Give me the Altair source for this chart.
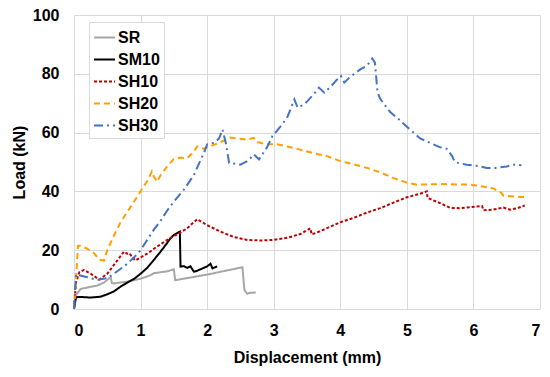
import altair as alt
import pandas as pd

series_names = ["SR", "SM10", "SH10", "SH20", "SH30"]
colors = ["#A6A6A6", "#000000", "#C00000", "#FFA000", "#4472C4"]
dashes = [[1, 0], [1, 0], [3, 2], [6, 4], [9, 4, 2, 4]]

x_ticks = [0, 1, 2, 3, 4, 5, 6, 7]
y_ticks = [0, 20, 40, 60, 80, 100]

sr_x = [0, 0.02, 0.1, 0.2, 0.35, 0.45, 0.55, 0.57, 0.6, 0.8, 1.0, 1.15, 1.2, 1.3, 1.4, 1.5, 1.52, 2.0, 2.53, 2.56, 2.6, 2.65, 2.73]
sr_y = [0, 4.5, 6.8, 7.3, 8.0, 9.0, 10.8, 8.8, 8.7, 9.3, 10.3, 11.5, 12.2, 12.5, 12.8, 13.5, 9.8, 11.7, 14.2, 6.5, 5.2, 5.5, 5.6]

sm10_x = [0, 0.03, 0.1, 0.25, 0.4, 0.5, 0.6, 0.7, 0.8, 0.9, 1.0, 1.1, 1.2, 1.3, 1.4, 1.45, 1.5, 1.59, 1.6, 1.65, 1.7, 1.75, 1.8, 1.85, 1.9, 2.0, 2.05, 2.08, 2.12, 2.15]
sm10_y = [0, 4.0, 4.1, 3.9, 4.2, 5.0, 6.0, 7.6, 9.0, 10.2, 12.0, 14.0, 16.7, 19.5, 22.5, 24.1, 25.2, 26.3, 14.4, 14.6, 14.0, 14.5, 12.7, 13.0, 13.5, 14.5, 15.4, 13.8, 14.2, 14.5]

sh10_x = [0, 0.03, 0.08, 0.15, 0.25, 0.38, 0.5, 0.6, 0.7, 0.75, 0.8, 0.83, 0.88, 0.92, 1.0, 1.1, 1.2, 1.3, 1.4, 1.5, 1.6, 1.7, 1.85, 2.0, 2.2, 2.4, 2.6, 2.8, 3.0, 3.2, 3.4, 3.55, 3.57, 3.65, 3.8, 4.0, 4.2, 4.4, 4.6, 4.8, 5.0, 5.2, 5.3, 5.31, 5.5, 5.65, 5.8, 6.1, 6.13, 6.15, 6.3, 6.45, 6.55, 6.65, 6.77]
sh10_y = [0, 9.0, 12.5, 13.3, 12.0, 10.0, 12.0, 15.0, 18.0, 19.5, 18.8, 19.0, 17.5, 16.5, 17.5, 18.8, 20.5, 22.0, 23.5, 24.8, 26.0, 27.5, 30.5, 28.5, 26.3, 24.5, 23.5, 23.3, 23.5, 24.2, 25.5, 27.4, 25.4, 26.0, 27.5, 29.5, 31.0, 32.8, 34.3, 36.2, 38.0, 39.2, 40.0, 37.8, 36.0, 34.4, 34.3, 35.0, 35.0, 33.6, 33.8, 34.5, 33.8, 34.2, 35.2]

sh20_x = [0, 0.03, 0.06, 0.1, 0.2, 0.3, 0.38, 0.45, 0.5, 0.6, 0.7, 0.8, 0.9, 1.0, 1.1, 1.17, 1.2, 1.25, 1.3, 1.4, 1.5, 1.6, 1.7, 1.8, 1.85, 1.95, 2.1, 2.2, 2.35, 2.45, 2.6, 2.7, 2.75, 2.9, 3.05, 3.3, 3.6, 3.8, 4.0, 4.2, 4.4, 4.6, 4.8, 5.0, 5.15, 5.5, 5.95, 6.1, 6.3, 6.42, 6.45, 6.6, 6.8]
sh20_y = [0, 10.0, 21.5, 21.5, 20.5, 19.0, 16.8, 16.5, 20.0, 25.0, 29.5, 33.0, 36.5, 40.0, 43.5, 46.8, 45.0, 43.3, 45.5, 48.5, 51.0, 51.5, 51.3, 53.5, 55.3, 54.5, 55.8, 56.8, 58.3, 58.0, 57.6, 58.2, 56.8, 56.0, 56.0, 54.8, 53.0, 52.0, 50.3, 49.2, 48.0, 46.5, 44.5, 43.0, 42.3, 42.5, 42.3, 41.8, 41.0, 39.5, 38.5, 38.3, 38.0]

sh30_x = [0, 0.03, 0.08, 0.2, 0.35, 0.5, 0.6, 0.78, 0.9, 1.0, 1.1, 1.2, 1.3, 1.4, 1.5, 1.65, 1.8, 1.86, 1.95, 2.0, 2.1, 2.18, 2.23, 2.28, 2.33, 2.5, 2.62, 2.7, 2.78, 2.9, 2.98, 3.1, 3.2, 3.31, 3.36, 3.45, 3.51, 3.6, 3.68, 3.76, 3.85, 3.95, 4.01, 4.06, 4.15, 4.3, 4.4, 4.48, 4.52, 4.56, 4.6, 4.66, 4.75, 4.88, 5.0, 5.1, 5.2, 5.35, 5.5, 5.6, 5.68, 5.72, 5.8, 5.9, 6.0, 6.1, 6.2, 6.35, 6.5, 6.6, 6.72]
sh30_y = [0, 11.8, 11.5, 10.8, 9.9, 10.5, 12.0, 15.0, 17.5, 20.0, 23.5, 27.0, 30.0, 33.5, 36.5, 40.6, 45.5, 48.6, 53.0, 56.0, 56.5, 58.0, 61.1, 56.5, 49.7, 49.1, 50.5, 52.6, 50.9, 55.0, 58.8, 62.0, 65.0, 71.3, 68.5, 69.5, 70.8, 73.0, 75.3, 73.6, 75.5, 78.0, 79.3, 77.0, 79.0, 81.5, 82.7, 85.2, 83.8, 73.6, 71.5, 69.6, 67.0, 64.5, 62.0, 60.0, 58.0, 56.5, 55.0, 54.5, 52.0, 50.0, 49.5, 49.1, 48.8, 48.5, 48.0, 48.0, 48.5, 49.1, 48.9]

all_series = [
    ("SR", sr_x, sr_y),
    ("SM10", sm10_x, sm10_y),
    ("SH10", sh10_x, sh10_y),
    ("SH20", sh20_x, sh20_y),
    ("SH30", sh30_x, sh30_y),
]

rows = []
for name, xs, ys in all_series:
    for i, (xv, yv) in enumerate(zip(xs, ys)):
        rows.append({"series": name, "disp": xv, "load": yv, "idx": i})
df = pd.DataFrame(rows)

FONT = "Liberation Sans"

legend = alt.Legend(
    title=None, orient="none", legendX=15, legendY=7,
    symbolType="stroke", symbolSize=441, symbolStrokeWidth=2,
    labelFont=FONT, labelFontSize=16, labelFontWeight="bold", labelColor="black",
    padding=4, fillColor="white", strokeColor="#D9D9D9",
    labelOffset=2, rowPadding=2,
)

chart = alt.Chart(df).mark_line(strokeWidth=2, strokeCap="butt").encode(
    x=alt.X("disp:Q", scale=alt.Scale(domain=[0, 7], nice=False),
            axis=alt.Axis(title="Displacement (mm)", values=x_ticks, format="d",
                          grid=True, gridColor="#D9D9D9", domain=False, ticks=False,
                          labelPadding=13, labelFont=FONT, labelFontSize=16,
                          labelFontWeight="bold", labelColor="black",
                          titleFont=FONT, titleFontSize=16, titleFontWeight="bold",
                          titleColor="black", titlePadding=11)),
    y=alt.Y("load:Q", scale=alt.Scale(domain=[0, 100], nice=False),
            axis=alt.Axis(title="Load (kN)", values=y_ticks, format="d",
                          grid=True, gridColor="#D9D9D9", domain=False, ticks=False,
                          labelPadding=15, labelFont=FONT, labelFontSize=16,
                          labelFontWeight="bold", labelColor="black",
                          titleFont=FONT, titleFontSize=16, titleFontWeight="bold",
                          titleColor="black", titlePadding=5)),
    color=alt.Color("series:N", scale=alt.Scale(domain=series_names, range=colors), legend=legend),
    strokeDash=alt.StrokeDash("series:N", scale=alt.Scale(domain=series_names, range=dashes), legend=legend),
    order=alt.Order("idx:Q"),
    detail="series:N",
).properties(
    width=466, height=294,
    autosize=alt.AutoSizeParams(type="none"),
    padding={"left": 66, "top": 7, "right": 2, "bottom": 60},
    background="white",
).configure_view(stroke=None)

chart.save("out.html", embed_options={"renderer": "svg", "actions": False})
